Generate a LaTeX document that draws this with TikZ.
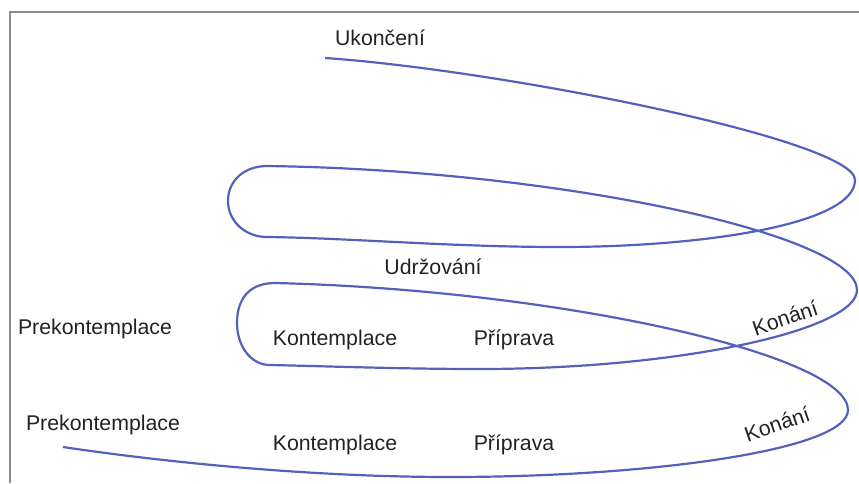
\documentclass[tikz,border=0pt]{standalone}
\usepackage{fontspec}
\setmainfont{Liberation Sans}
\definecolor{spiralblue}{RGB}{82,98,188}
\definecolor{framegray}{RGB}{140,140,140}
\definecolor{labelgray}{RGB}{34,34,34}
\tikzset{
  stage/.style={text=labelgray, font=\fontsize{21.3}{25}\selectfont, inner sep=0pt},
  spiral/.style={spiralblue, line width=2.2pt}
}

\begin{document}
\begin{tikzpicture}[x=1pt, y=-1pt]
    \useasboundingbox (0,0) rectangle (859,483);

    % --- Cadre ---
    \draw [framegray, line width=2.5pt] (10,483) -- (10,12) -- (859,12);

    % --- Coordonnées de la spirale ---
    \coordinate (start) at (325,58);
    \coordinate (r1) at (855,180);
    \coordinate (b1) at (560,247);
    \coordinate (l1b) at (267,237);
    \coordinate (l1) at (228,201);
    \coordinate (l1t) at (267,166);
    \coordinate (r2) at (857,290);
    \coordinate (b2) at (480,369);
    \coordinate (l2b) at (270,365);
    \coordinate (l2) at (237,323);
    \coordinate (l2t) at (275,283);
    \coordinate (r3) at (848,410);
    \coordinate (b3) at (450,477);
    \coordinate (end) at (63,447);

    % --- Spirale ---
    \draw [spiral] (start) .. controls (500,70) and (855,140) .. (r1)
        .. controls (855,225) and (700,247) .. (b1)
        .. controls (450,247) and (350,238) .. (l1b)
        .. controls (245,237) and (228,221) .. (l1)
        .. controls (228,180) and (245,166) .. (l1t)
        .. controls (560,170) and (857,235) .. (r2)
        .. controls (857,330) and (680,369) .. (b2)
        .. controls (400,369) and (320,366) .. (l2b)
        .. controls (250,365) and (237,345) .. (l2)
        .. controls (237,298) and (250,283) .. (l2t)
        .. controls (560,290) and (848,355) .. (r3)
        .. controls (848,450) and (650,477) .. (b3)
        .. controls (300,477) and (150,460) .. (end);

    % --- Étiquettes ---
    \node[stage] (ukonceni) at (380,38) {Ukončení};
    \node[stage] (udrzovani) at (433,267) {Udržování};
    % Premier tour
    \node[stage] (prekont1) at (95,329) {Prekontemplace};
    \node[stage] (kont1) at (335,340) {Kontemplace};
    \node[stage] (priprava1) at (514,340) {Příprava};
    \node[stage, rotate=19] (konani1) at (785,318) {Konání};
    % Second tour
    \node[stage] (prekont2) at (103,425) {Prekontemplace};
    \node[stage] (kont2) at (335,445) {Kontemplace};
    \node[stage] (priprava2) at (514,445) {Příprava};
    \node[stage, rotate=19] (konani2) at (777,424) {Konání};
\end{tikzpicture}
\end{document}
